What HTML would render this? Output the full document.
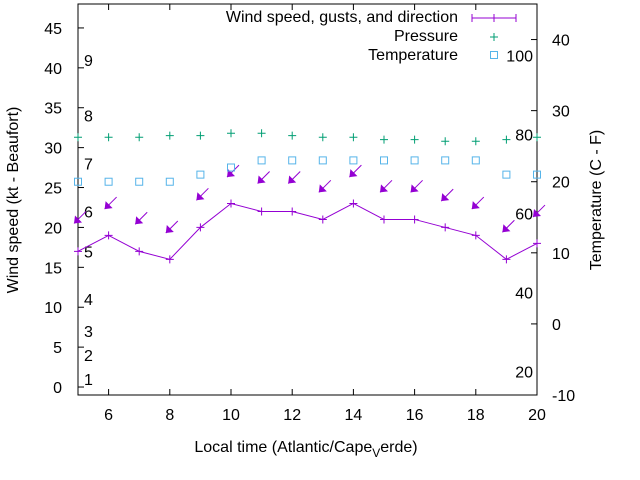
<!DOCTYPE html>
<html><head><meta charset="utf-8"><style>
html,body{margin:0;padding:0;background:#fff}
svg{display:block;font-family:"Liberation Sans",Arial,sans-serif;font-size:16px}
</style></head><body>
<svg id="chart" width="640" height="480" viewBox="0 0 640 480">
<g id="grid-layer"></g>
<g id="marks"></g>
<text x="14" y="200" transform="rotate(-90 14 200)" text-anchor="middle" dominant-baseline="middle">Wind speed (kt - Beaufort)</text>
<text x="597" y="200" transform="rotate(-90 597 200)" text-anchor="middle" dominant-baseline="middle">Temperature (C - F)</text>
<text x="306" y="452" text-anchor="middle">Local time (Atlantic/Cape<tspan dy="5" font-size="12">V</tspan><tspan dy="-5">erde)</tspan></text>
<g>
<text x="458" y="22" text-anchor="end">Wind speed, gusts, and direction</text>
<g stroke="#9400d3" stroke-width="1"><line x1="472" y1="18" x2="516" y2="18"/><line x1="472" y1="14" x2="472" y2="22"/><line x1="516" y1="14" x2="516" y2="22"/><line x1="490" y1="18" x2="498" y2="18"/><line x1="494" y1="14" x2="494" y2="22"/></g>
<text x="458" y="41" text-anchor="end">Pressure</text>
<g stroke="#009e73"><line x1="490" y1="37" x2="498" y2="37"/><line x1="494" y1="33" x2="494" y2="41"/></g>
<text x="458" y="60" text-anchor="end">Temperature</text>
<rect x="490.5" y="51.5" width="7" height="7" fill="none" stroke="#56b4e9"/>
</g>
</svg>
<script>
const hours=[5,6,7,8,9,10,11,12,13,14,15,16,17,18,19,20];
const windSpeed=[17,19,17,16,20,23,22,22,21,23,21,21,20,19,16,18];
const gusts=[20.5,22.3,20.4,19.3,23.4,26.3,25.5,25.5,24.4,26.3,24.4,24.4,23.3,22.3,19.4,21.3];
const pressure=[31.3,31.3,31.3,31.5,31.5,31.8,31.8,31.5,31.3,31.3,31.0,31.0,30.8,30.8,31.0,31.3];
const temperature=[20,20,20,20,21,22,23,23,23,23,23,23,23,23,21,21];
const xTicks=[6,8,10,12,14,16,18,20];
const yTicks=[0,5,10,15,20,25,30,35,40,45];
const y2Ticks=[-10,0,10,20,30,40];
const beaufortLabels=["1","2","3","4","5","6","7","8","9"];
const beaufortAt=[1,4,7,11,17,22,28,34,41];
const fahrenheitLabels=["20","40","60","80","100"];
const fahrenheitVals=[20,40,60,80,100];
const L=78,R=537,T=4,B=395;
const X=v=>L+(v-5)/(20-5)*(R-L);
const Y=v=>B-(v+1)/(48+1)*(B-T);
const Y2=v=>B-(v+10)/(45+10)*(B-T);
const NS="http://www.w3.org/2000/svg";
function mk(tag,attrs,parent){const e=document.createElementNS(NS,tag);for(const k in attrs)e.setAttribute(k,attrs[k]);parent.appendChild(e);return e;}
const ax=document.getElementById('grid-layer');
const mg=document.getElementById('marks');
const frame=mk('rect',{x:L,y:T,width:R-L,height:B-T,fill:'none',stroke:'#000','stroke-width':1},ax);


xTicks.forEach((t,i)=>{const x=X(t);
 mk('line',{x1:x,y1:B,x2:x,y2:B-6,stroke:'#000'},ax);
 mk('line',{x1:x,y1:T,x2:x,y2:T+6,stroke:'#000'},ax);
 const tx=mk('text',{x:x,y:B+25,'text-anchor':'middle'},ax);tx.textContent=t;
 
 });
yTicks.forEach(t=>{const y=Y(t);
 mk('line',{x1:L,y1:y,x2:L+6,y2:y,stroke:'#000'},ax);
 const tx=mk('text',{x:62,y:y+6,'text-anchor':'end'},ax);tx.textContent=t;
 
 });
y2Ticks.forEach(t=>{const y=Y2(t);
 mk('line',{x1:R,y1:y,x2:R-6,y2:y,stroke:'#000'},ax);
 const tx=mk('text',{x:552,y:y+6,'text-anchor':'start'},ax);tx.textContent=t;
 
 });
beaufortLabels.forEach((s,i)=>{const tx=mk('text',{x:84,y:Y(beaufortAt[i])+6},ax);tx.textContent=s;
 
 });
fahrenheitVals.forEach((f,i)=>{const c=(f-32)*5/9;const tx=mk('text',{x:533,y:Y2(c)+6,'text-anchor':'end'},ax);tx.textContent=fahrenheitLabels[i];
 
 });
const pl=mk('polyline',{points:hours.map((h,i)=>X(h)+','+Y(windSpeed[i])).join(' '),fill:'none',stroke:'#9400d3','stroke-width':1},mg);


hours.forEach((h,i)=>{const x=X(h),y=Y(windSpeed[i]);
 const g=mk('path',{d:`M${x-4},${y}H${x+4}M${x},${y-4}V${y+4}`,stroke:'#9400d3'},mg);
 
 
 const tx=x-4,ty=Y(gusts[i]);
 const a=mk('path',{d:`M${tx+12},${ty-12}L${tx},${ty}`,stroke:'#9400d3','stroke-width':1},mg);
 
 
 const hd=mk('polygon',{points:`${tx},${ty} ${tx+1},${ty-8} ${tx+8},${ty-1}`,fill:'#9400d3'},mg);
 
 
 const py=Y(pressure[i]);
 const p=mk('path',{d:`M${x-4},${py}H${x+4}M${x},${py-4}V${py+4}`,stroke:'#009e73'},mg);
 
 
 const ty2=Y2(temperature[i]);
 const r=mk('rect',{x:x-3.5,y:ty2-3.5,width:7,height:7,fill:'none',stroke:'#56b4e9'},mg);
 
 
});
</script>
</body></html>
